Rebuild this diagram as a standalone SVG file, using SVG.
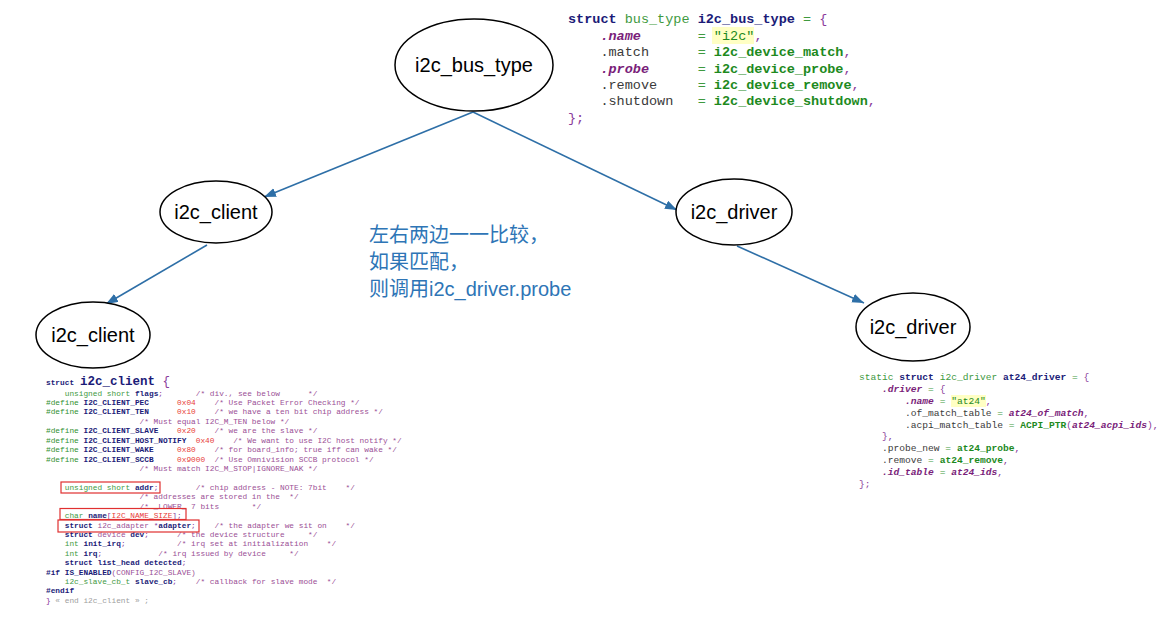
<svg xmlns="http://www.w3.org/2000/svg" width="1175" height="617" viewBox="0 0 1175 617">
<defs>
<style>
.node ellipse{fill:#fff;stroke:#000;stroke-width:1.5}
.node text{font-family:"Liberation Sans",Arial,sans-serif;font-size:20px;fill:#000;text-anchor:middle}
.conn line{stroke:#2e6fa7;stroke-width:1.6;fill:none;marker-end:url(#ah)}
.note{font-family:"Liberation Sans","Noto Sans CJK SC",sans-serif;font-size:20px;fill:#2e75b6}
.code text{font-family:"Liberation Mono","DejaVu Sans Mono",monospace;white-space:pre;fill:#3a3a3a}
.c1 text{font-size:13.5px}
.c2 text{font-size:7.8px}
.c3 text{font-size:9.6px}
.k{fill:#1b1b78;font-weight:bold}
.t{fill:#3f9a3f}
.o{fill:#3f9a3f}
.p{fill:#8a3a9a}
.m{fill:#7a1e7a;font-style:italic;font-weight:bold}
.f{fill:#1e8a1e;font-weight:bold}
.s{fill:#1e8a1e}
.c{fill:#9b4f96}
.h{fill:#e8403a}
.d{fill:#2f8f2f}
.g{fill:#a0a0a0}
.hl{fill:#ffffc4}
.box{fill:none;stroke:#e03030;stroke-width:1.2}
</style>
<marker id="ah" markerWidth="13" markerHeight="10" refX="12" refY="4.5" orient="auto" markerUnits="userSpaceOnUse">
<path d="M0,0 L12,4.5 L0,9 z" fill="#2e6fa7"/>
</marker>
</defs>
<rect width="1175" height="617" fill="#fff"/>

<g id="connectors" class="conn">
<line x1="473" y1="112" x2="264" y2="197"/>
<line x1="473" y1="112" x2="677" y2="210"/>
<line x1="207" y1="245" x2="106" y2="304"/>
<line x1="737" y1="246" x2="864" y2="303"/>
</g>

<g id="n_bus" class="node"><ellipse cx="474" cy="65" rx="79" ry="46"/><text x="474" y="72">i2c_bus_type</text></g>
<g id="n_client1" class="node"><ellipse cx="216" cy="212" rx="56" ry="31"/><text x="216" y="219">i2c_client</text></g>
<g id="n_driver1" class="node"><ellipse cx="734" cy="212" rx="58" ry="33"/><text x="734" y="219">i2c_driver</text></g>
<g id="n_client2" class="node"><ellipse cx="93" cy="335" rx="57" ry="33"/><text x="93" y="342">i2c_client</text></g>
<g id="n_driver2" class="node"><ellipse cx="913" cy="327" rx="57" ry="34"/><text x="913" y="334">i2c_driver</text></g>

<g id="note">
<text class="note" x="369" y="242">左右两边一一比较，</text>
<text class="note" x="369" y="269">如果匹配，</text>
<text class="note" x="369" y="296">则调用i2c_driver.probe</text>
</g>

<g id="code_bus" class="code c1" xml:space="preserve">
<rect class="hl" x="712" y="27" width="42" height="17"/>
<text x="568" y="23"><tspan class="k">struct</tspan> <tspan class="t">bus_type</tspan> <tspan class="k">i2c_bus_type</tspan> <tspan class="o">=</tspan> <tspan class="p">{</tspan></text>
<text x="568" y="39.5">    <tspan class="m">.name</tspan>       <tspan class="o">=</tspan> <tspan class="s">"i2c"</tspan><tspan class="p">,</tspan></text>
<text x="568" y="56">    .match      <tspan class="o">=</tspan> <tspan class="f">i2c_device_match</tspan><tspan class="p">,</tspan></text>
<text x="568" y="72.5">    <tspan class="m">.probe</tspan>      <tspan class="o">=</tspan> <tspan class="f">i2c_device_probe</tspan><tspan class="p">,</tspan></text>
<text x="568" y="89">    .remove     <tspan class="o">=</tspan> <tspan class="f">i2c_device_remove</tspan><tspan class="p">,</tspan></text>
<text x="568" y="105">    .shutdown   <tspan class="o">=</tspan> <tspan class="f">i2c_device_shutdown</tspan><tspan class="p">,</tspan></text>
<text x="568" y="121.5"><tspan class="p">};</tspan></text>
</g>

<g id="code_client" class="code c2" xml:space="preserve">
<text x="46" y="385"><tspan class="k">struct</tspan></text>
<text x="80" y="385" style="font-size:12.5px"><tspan class="k">i2c_client</tspan> <tspan class="p">{</tspan></text>
<text x="46" y="395.5">    <tspan class="t">unsigned short</tspan> <tspan class="k">flags</tspan><tspan class="p">;</tspan>       <tspan class="c">/* div., see below      */</tspan></text>
<text x="46" y="405"><tspan class="d">#define</tspan> <tspan class="k">I2C_CLIENT_PEC</tspan>      <tspan class="h">0x04</tspan>    <tspan class="c">/* Use Packet Error Checking */</tspan></text>
<text x="46" y="414.4"><tspan class="d">#define</tspan> <tspan class="k">I2C_CLIENT_TEN</tspan>      <tspan class="h">0x10</tspan>    <tspan class="c">/* we have a ten bit chip address */</tspan></text>
<text x="46" y="423.8">                    <tspan class="c">/* Must equal I2C_M_TEN below */</tspan></text>
<text x="46" y="433.2"><tspan class="d">#define</tspan> <tspan class="k">I2C_CLIENT_SLAVE</tspan>    <tspan class="h">0x20</tspan>    <tspan class="c">/* we are the slave */</tspan></text>
<text x="46" y="442.7"><tspan class="d">#define</tspan> <tspan class="k">I2C_CLIENT_HOST_NOTIFY</tspan>  <tspan class="h">0x40</tspan>    <tspan class="c">/* We want to use I2C host notify */</tspan></text>
<text x="46" y="452.1"><tspan class="d">#define</tspan> <tspan class="k">I2C_CLIENT_WAKE</tspan>     <tspan class="h">0x80</tspan>    <tspan class="c">/* for board_info; true iff can wake */</tspan></text>
<text x="46" y="461.5"><tspan class="d">#define</tspan> <tspan class="k">I2C_CLIENT_SCCB</tspan>     <tspan class="h">0x9000</tspan>  <tspan class="c">/* Use Omnivision SCCB protocol */</tspan></text>
<text x="46" y="471">                    <tspan class="c">/* Must match I2C_M_STOP|IGNORE_NAK */</tspan></text>
<text x="46" y="489.8">    <tspan class="t">unsigned short</tspan> <tspan class="k">addr</tspan><tspan class="p">;</tspan>        <tspan class="c">/* chip address - NOTE: 7bit    */</tspan></text>
<text x="46" y="499.2">                    <tspan class="c">/* addresses are stored in the  */</tspan></text>
<text x="46" y="508.6">                    <tspan class="c">/* _LOWER_ 7 bits       */</tspan></text>
<text x="46" y="518">    <tspan class="t">char</tspan> <tspan class="k">name</tspan><tspan class="p">[</tspan><tspan class="h">I2C_NAME_SIZE</tspan><tspan class="p">];</tspan></text>
<text x="46" y="527.5">    <tspan class="k">struct</tspan> <tspan class="c">i2c_adapter</tspan> <tspan class="p">*</tspan><tspan class="k">adapter</tspan><tspan class="p">;</tspan>    <tspan class="c">/* the adapter we sit on    */</tspan></text>
<text x="46" y="536.9">    <tspan class="k">struct</tspan> <tspan class="c">device</tspan> <tspan class="k">dev</tspan><tspan class="p">;</tspan>      <tspan class="c">/* the device structure     */</tspan></text>
<text x="46" y="546.3">    <tspan class="t">int</tspan> <tspan class="k">init_irq</tspan><tspan class="p">;</tspan>           <tspan class="c">/* irq set at initialization    */</tspan></text>
<text x="46" y="555.7">    <tspan class="t">int</tspan> <tspan class="k">irq</tspan><tspan class="p">;</tspan>            <tspan class="c">/* irq issued by device     */</tspan></text>
<text x="46" y="565.2">    <tspan class="k">struct</tspan> <tspan class="k">list_head</tspan> <tspan class="k">detected</tspan><tspan class="p">;</tspan></text>
<text x="46" y="574.6"><tspan class="k">#if</tspan> <tspan class="k">IS_ENABLED</tspan><tspan class="c">(CONFIG_I2C_SLAVE)</tspan></text>
<text x="46" y="584"><tspan>    </tspan><tspan class="t">i2c_slave_cb_t</tspan> <tspan class="k">slave_cb</tspan><tspan class="p">;</tspan>    <tspan class="c">/* callback for slave mode  */</tspan></text>
<text x="46" y="593.4"><tspan class="k">#endif</tspan></text>
<text x="46" y="603"><tspan class="p">}</tspan><tspan class="g"> « end i2c_client » ;</tspan></text>
<rect class="box" x="61" y="482" width="99" height="11"/>
<rect class="box" x="60" y="508.5" width="126" height="11"/>
<rect class="box" x="58" y="520" width="141" height="12"/>
</g>

<g id="code_driver" class="code c3" xml:space="preserve">
<rect class="hl" x="951" y="395" width="35" height="12"/>
<text x="859" y="380.3"><tspan class="t">static</tspan> <tspan class="k">struct</tspan> <tspan class="t">i2c_driver</tspan> <tspan class="k">at24_driver</tspan> <tspan class="o">=</tspan> <tspan class="p">{</tspan></text>
<text x="859" y="392.1">    <tspan class="m">.driver</tspan> <tspan class="o">=</tspan> <tspan class="p">{</tspan></text>
<text x="859" y="403.9">        <tspan class="m">.name</tspan> <tspan class="o">=</tspan> <tspan class="s">"at24"</tspan><tspan class="p">,</tspan></text>
<text x="859" y="415.7">        .of_match_table <tspan class="o">=</tspan> <tspan class="m">at24_of_match</tspan><tspan class="p">,</tspan></text>
<text x="859" y="427.5">        .acpi_match_table <tspan class="o">=</tspan> <tspan class="f">ACPI_PTR</tspan><tspan class="p">(</tspan><tspan class="m">at24_acpi_ids</tspan><tspan class="p">),</tspan></text>
<text x="859" y="439.3">    <tspan class="p">},</tspan></text>
<text x="859" y="451.1">    .probe_new <tspan class="o">=</tspan> <tspan class="f">at24_probe</tspan><tspan class="p">,</tspan></text>
<text x="859" y="462.9">    .remove <tspan class="o">=</tspan> <tspan class="f">at24_remove</tspan><tspan class="p">,</tspan></text>
<text x="859" y="474.7">    <tspan class="m">.id_table</tspan> <tspan class="o">=</tspan> <tspan class="m">at24_ids</tspan><tspan class="p">,</tspan></text>
<text x="859" y="486.5"><tspan class="p">};</tspan></text>
</g>
</svg>
